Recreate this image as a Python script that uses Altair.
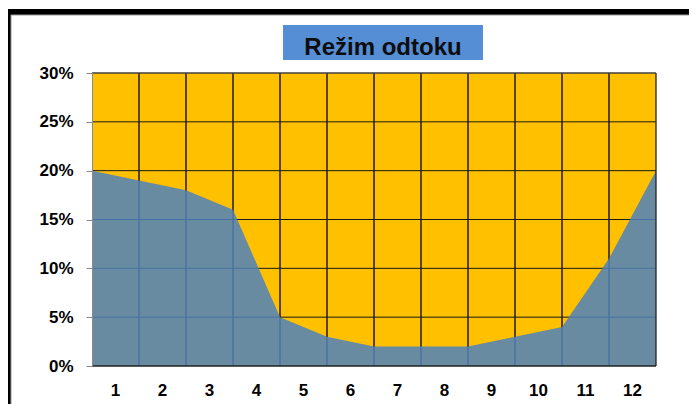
import altair as alt
import pandas as pd

# Data
boundaries = list(range(13))
values = [0.20, 0.19, 0.18, 0.16, 0.05, 0.03, 0.02, 0.02, 0.02, 0.03, 0.04, 0.11, 0.20]
month_labels = ["1", "2", "3", "4", "5", "6", "7", "8", "9", "10", "11", "12"]
month_centers = [i + 0.5 for i in range(12)]
y_ticks = [0, 0.05, 0.10, 0.15, 0.20, 0.25, 0.30]
v_grid = list(range(1, 12))
title_text = "Režim odtoku"

W, H = 564, 293
FONT = "Liberation Sans"

xscale = alt.Scale(domain=[0, 12], nice=False, zero=False)
yscale = alt.Scale(domain=[0, 0.30], nice=False)

yaxis = alt.Axis(
    values=y_ticks, format=".0%", grid=False, title=None,
    domain=True, domainColor="#8a8a8a", tickColor="#8a8a8a", tickSize=6,
    labelFont=FONT, labelFontSize=17, labelFontWeight="bold", labelColor="black",
    labelPadding=13, zindex=1,
)

one = pd.DataFrame({"a": [0]})

frame_black = alt.Chart(one).mark_rect(color="black").encode(
    x=alt.value(-84), x2=alt.value(610), y=alt.value(-64), y2=alt.value(340)
)
frame_white = alt.Chart(one).mark_rect(fill="white", stroke="#9a9a9a", strokeWidth=1).encode(
    x=alt.value(-81), x2=alt.value(640), y=alt.value(-58), y2=alt.value(360)
)
title_box = alt.Chart(one).mark_rect(color="#558ED5").encode(
    x=alt.value(191), x2=alt.value(391), y=alt.value(-48), y2=alt.value(-13)
)
title_txt = alt.Chart(pd.DataFrame({"t": [title_text]})).mark_text(
    font=FONT, fontSize=24, fontWeight="bold", color="#0d0d0d", baseline="alphabetic", align="center"
).encode(x=alt.value(291), y=alt.value(-18.5), text="t:N")

plot_bg = alt.Chart(one).mark_rect(color="#FFC000").encode(
    x=alt.value(0), x2=alt.value(W), y=alt.value(0), y2=alt.value(H)
)

vrules = alt.Chart(pd.DataFrame({"b": v_grid})).mark_rule(color="black", strokeWidth=1.3).encode(
    x=alt.X("b:Q", scale=xscale, axis=None), y=alt.value(0), y2=alt.value(H)
)
hrules = alt.Chart(pd.DataFrame({"v": y_ticks[1:]})).mark_rule(color="#1a1a1a", strokeWidth=1).encode(
    y=alt.Y("v:Q", scale=yscale, axis=yaxis), x=alt.value(0), x2=alt.value(W)
)

area = alt.Chart(pd.DataFrame({"b": boundaries, "v": values})).mark_area(
    color="#4F81BD", opacity=0.85
).encode(
    x=alt.X("b:Q", scale=xscale, axis=None),
    y=alt.Y("v:Q", scale=yscale, axis=yaxis),
)

border_bottom = alt.Chart(one).mark_rule(color="#222222", strokeWidth=1.5).encode(
    x=alt.value(0), x2=alt.value(W), y=alt.value(H)
)
border_right = alt.Chart(one).mark_rule(color="#222222", strokeWidth=1.3).encode(
    x=alt.value(W), y=alt.value(0), y2=alt.value(H)
)
border_top = alt.Chart(one).mark_rule(color="#555555", strokeWidth=1).encode(
    x=alt.value(0), x2=alt.value(W), y=alt.value(0)
)

xlabels = alt.Chart(pd.DataFrame({"c": month_centers, "lab": month_labels})).mark_text(
    font=FONT, fontSize=17, fontWeight="bold", color="black", baseline="alphabetic", align="center"
).encode(x=alt.X("c:Q", scale=xscale, axis=None), y=alt.value(323), text="lab:N")

chart = alt.layer(
    frame_black, frame_white, title_box, title_txt, plot_bg, vrules, hrules, area,
    border_bottom, border_right, border_top, xlabels,
).properties(
    width=W, height=H,
    autosize=alt.AutoSizeParams(type="none"),
    padding={"left": 84, "top": 65, "right": 33, "bottom": 38},
    background="white",
).configure_view(stroke=None)

chart.save("out.html", embed_options={"renderer": "svg", "actions": False})
